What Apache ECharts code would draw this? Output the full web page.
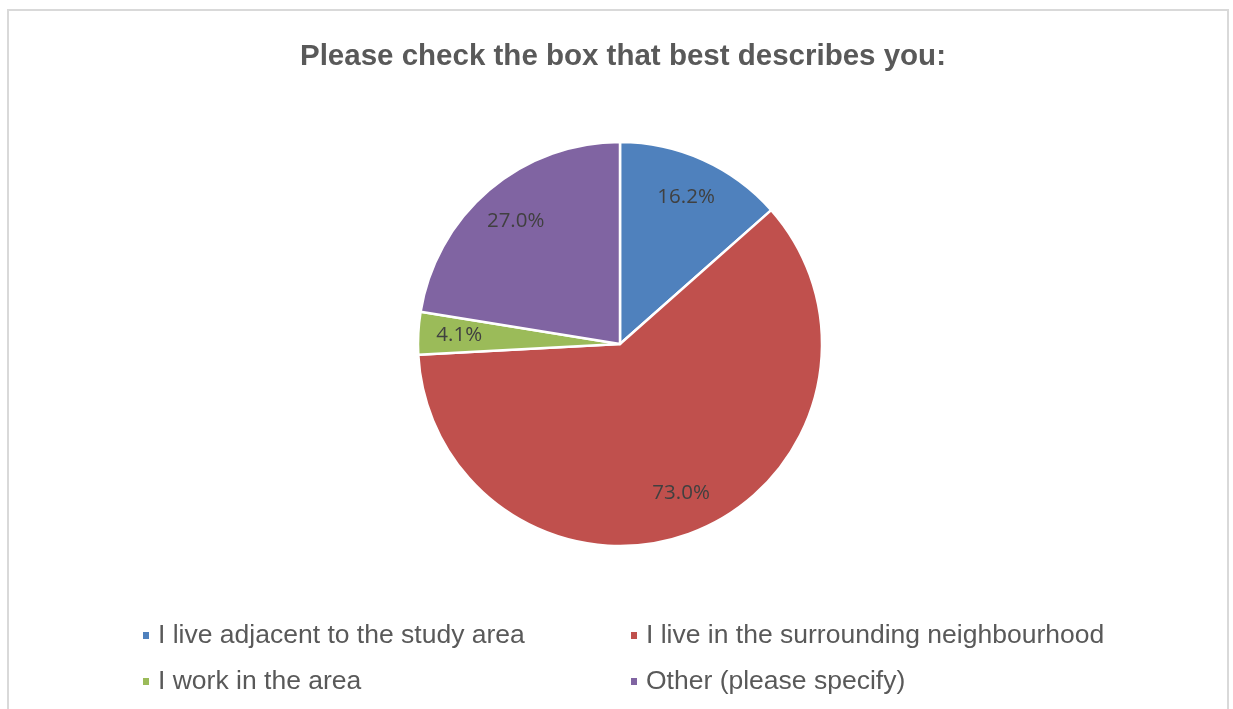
<!DOCTYPE html>
<html>
<head>
<meta charset="utf-8">
<script src="https://cdn.jsdelivr.net/npm/echarts@6/dist/echarts.min.js"></script>
<style>
html,body{margin:0;padding:0;background:#fff;}
#frame{position:absolute;left:7px;top:9px;width:1222px;height:720px;border:2px solid #d9d9d9;border-bottom:none;box-sizing:border-box;}
#chart{position:absolute;left:0;top:0;width:1233px;height:709px;}
</style>
</head>
<body>
<div id="frame"></div>
<div id="chart"></div>
<script>
const titleText = 'Please check the box that best describes you:';
const categories = [
  'I live adjacent to the study area',
  'I live in the surrounding neighbourhood',
  'I work in the area',
  'Other (please specify)'
];
const values = [16.2, 73.0, 4.1, 27.0];
const colors = ['#4f81bd', '#c0504d', '#9bbb59', '#8064a2'];

const chart = echarts.init(document.getElementById('chart'), null, {renderer: 'canvas'});
const pieData = categories.map((c, i) => ({name: c, value: values[i], itemStyle: {color: colors[i]}}));
const labelData = categories.map((c, i) => ({name: c, value: values[i]}));

const legendCommon = {
  orient: 'vertical',
  icon: 'rect',
  itemWidth: 8,
  itemHeight: 9,
  itemGap: 19,
  textStyle: {fontFamily: 'Liberation Sans, Arial, sans-serif', fontSize: 26.5, lineHeight: 26, color: '#595959', padding: [0, 0, 0, 3]},
  selectedMode: false
};

chart.setOption({
  animation: false,
  backgroundColor: 'transparent',
  color: colors,
  title: {
    text: titleText,
    left: 295,
    top: 37,
    textStyle: {fontFamily: 'Liberation Sans, Arial, sans-serif', fontSize: 29.5, fontWeight: 'bold', color: '#595959'}
  },
  legend: [
    Object.assign({}, legendCommon, {data: [categories[0], categories[2]], left: 136, top: 617}),
    Object.assign({}, legendCommon, {data: [categories[1], categories[3]], left: 624, top: 617})
  ],
  series: [
    {
      type: 'pie',
      center: [620, 344],
      radius: [0, 202],
      startAngle: 90,
      clockwise: true,
      label: {show: false},
      labelLine: {show: false},
      emphasis: {disabled: true},
      itemStyle: {borderColor: '#ffffff', borderWidth: 2.5},
      data: pieData
    },
    {
      type: 'pie',
      center: [620, 344],
      radius: [114, 202],
      startAngle: 90,
      clockwise: true,
      silent: true,
      legendHoverLink: false,
      itemStyle: {color: 'rgba(0,0,0,0)', borderWidth: 0},
      emphasis: {disabled: true},
      label: {
        show: true,
        position: 'inside',
        formatter: p => p.value.toFixed(1) + '%',
        fontFamily: 'Open Sans, Noto Sans, sans-serif',
        fontSize: 20.5,
        color: '#404040'
      },
      labelLine: {show: false},
      data: labelData
    }
  ]
});
</script>
</body>
</html>
